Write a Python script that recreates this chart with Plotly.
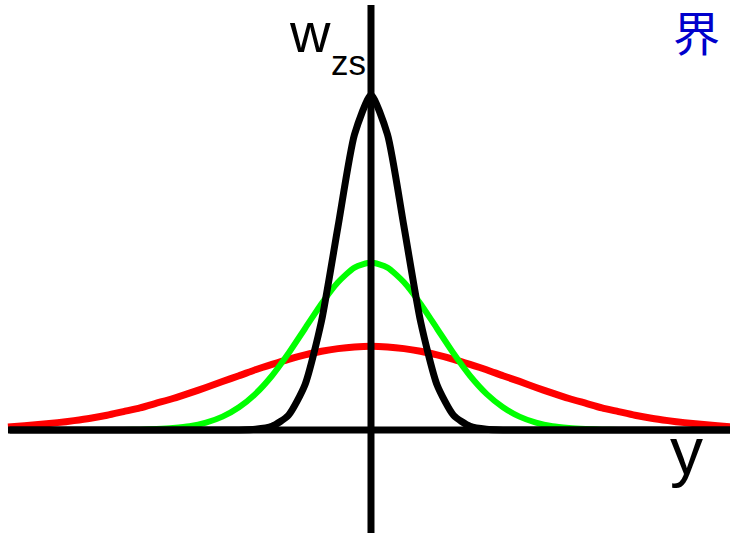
import plotly.graph_objects as go

# Sample positions along y (shared by all three profiles)
y_pos = [i * 0.5 for i in range(-22, 23)]

# Half-profiles from the centre outwards (0, 0.5, 1.0, ... 11.0)
black_half = [1.000, 0.882, 0.607, 0.325, 0.135, 0.044, 0.011, 0.002, 0.000,
              0.000, 0.000, 0.000, 0.000, 0.000, 0.000, 0.000, 0.000, 0.000,
              0.000, 0.000, 0.000, 0.000, 0.000]
green_half = [0.500, 0.485, 0.441, 0.377, 0.303, 0.229, 0.162, 0.108, 0.068,
              0.040, 0.022, 0.011, 0.006, 0.003, 0.001, 0.000, 0.000, 0.000,
              0.000, 0.000, 0.000, 0.000, 0.000]
red_half = [0.250, 0.248, 0.243, 0.235, 0.224, 0.211, 0.196, 0.180, 0.162,
            0.145, 0.127, 0.110, 0.094, 0.080, 0.066, 0.055, 0.044, 0.035,
            0.028, 0.022, 0.017, 0.013, 0.009]


def mirrored(half):
    return half[:0:-1] + half


series = [
    ("red", mirrored(red_half), 7),
    ("#00ff00", mirrored(green_half), 6),
    ("black", mirrored(black_half), 7),
]

X_RANGE = [-11.242, 10.879]
Y_RANGE = [-0.3134, 1.2836]

fig = go.Figure()
for color, vals, width in series:
    fig.add_trace(go.Scatter(
        x=y_pos, y=vals, mode="lines",
        line=dict(color=color, width=width, shape="spline", smoothing=0.6),
        hoverinfo="skip", showlegend=False,
    ))

# Axes drawn as thick black lines crossing at the origin
fig.add_shape(type="line", x0=-10.95, x1=X_RANGE[1] + 0.2, y0=0, y1=0,
              line=dict(color="black", width=7), layer="above")
fig.add_shape(type="line", x0=0, x1=0, y0=-0.3075, y1=1.2687,
              line=dict(color="black", width=7), layer="above")

W, H = 730, 535


def px(xp, yp):
    return xp / W, 1 - yp / H


ann = [
    ("w", 310, 33, 56, "black", "Liberation Sans", "center"),
    ("zs", 348.5, 63, 35, "black", "Liberation Sans", "center"),
    ("y", 686.5, 451, 66, "black", "Liberation Sans", "center"),
    ("界", 722, 30, 47, "#0000cc", "Noto Sans CJK SC", "right"),
]
for text, xp, yp, size, color, fam, anchor in ann:
    ax, ay = px(xp, yp)
    fig.add_annotation(text=text, x=ax, y=ay, xref="paper", yref="paper",
                       xanchor=anchor, yanchor="middle", showarrow=False,
                       font=dict(size=size, color=color, family=fam))

fig.update_layout(
    width=W, height=H,
    margin=dict(l=0, r=0, t=0, b=0),
    paper_bgcolor="white", plot_bgcolor="white",
    xaxis=dict(range=X_RANGE, visible=False, fixedrange=True),
    yaxis=dict(range=Y_RANGE, visible=False, fixedrange=True),
)

fig.write_html("out.html")
